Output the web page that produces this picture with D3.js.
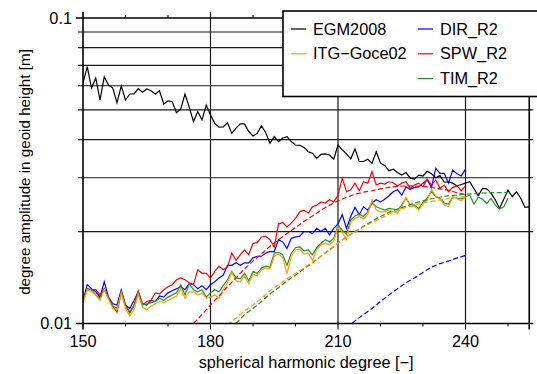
<!DOCTYPE html>
<html lang="en">
<head>
	<meta charset="UTF-8">
	<title>degree amplitudes</title>
	<style>
		body { margin: 0; background: #fff; }
		text { font-family: "Liberation Sans", Arial, Helvetica, sans-serif; }
	</style>
</head>
<body>
	<script type="text/javascript" src="https://cdn.jsdelivr.net/npm/d3@7/dist/d3.min.js"></script>
	<script type="text/javascript">
		// degree amplitudes [m], one value per degree
		var egm2008 = [0.0612,0.0693,0.0590,0.0636,0.0539,0.0642,0.0603,0.0590,0.0528,0.0599,
			0.0539,0.0564,0.0564,0.0587,0.0572,0.0586,0.0578,0.0564,0.0578,0.0523,
			0.0535,0.0532,0.0490,0.0504,0.0564,0.0511,0.0458,0.0494,0.0464,0.0519,
			0.0481,0.0452,0.0439,0.0440,0.0454,0.0419,0.0436,0.0450,0.0450,0.0425,
			0.0411,0.0419,0.0443,0.0421,0.0389,0.0409,0.0394,0.0405,0.0409,0.0394,
			0.0384,0.0383,0.0377,0.0365,0.0361,0.0347,0.0358,0.0359,0.0356,0.0345,
			0.0384,0.0370,0.0359,0.0346,0.0373,0.0339,0.0339,0.0345,0.0335,0.0365,
			0.0335,0.0329,0.0316,0.0320,0.0312,0.0306,0.0312,0.0299,0.0297,0.0306,
			0.0304,0.0315,0.0309,0.0300,0.0305,0.0290,0.0291,0.0288,0.0282,0.0285,
			0.0288,0.0291,0.0276,0.0262,0.0277,0.0276,0.0267,0.0254,0.0238,0.0255,
			0.0273,0.0260,0.0270,0.0257,0.0240,0.0241];
		var dirR2 = [0.0119,0.0134,0.0130,0.0127,0.0122,0.0137,0.0122,0.0116,0.0115,0.0129,
			0.0115,0.0112,0.0119,0.0127,0.0116,0.0115,0.0119,0.0118,0.0123,0.0122,
			0.0126,0.0128,0.0130,0.0132,0.0129,0.0135,0.0134,0.0130,0.0133,0.0129,
			0.0134,0.0137,0.0141,0.0144,0.0155,0.0155,0.0158,0.0155,0.0158,0.0158,
			0.0164,0.0166,0.0166,0.0170,0.0172,0.0172,0.0188,0.0185,0.0176,0.0190,
			0.0192,0.0193,0.0200,0.0200,0.0197,0.0205,0.0200,0.0205,0.0195,0.0205,
			0.0212,0.0227,0.0205,0.0224,0.0240,0.0227,0.0241,0.0235,0.0248,0.0254,
			0.0250,0.0255,0.0262,0.0270,0.0274,0.0263,0.0280,0.0275,0.0279,0.0280,
			0.0288,0.0295,0.0279,0.0322,0.0310,0.0310,0.0288,0.0318,0.0309,0.0304,
			0.0320];
		var spwR2 = [0.0119,0.0130,0.0129,0.0129,0.0124,0.0130,0.0121,0.0114,0.0109,0.0126,
			0.0115,0.0109,0.0115,0.0128,0.0115,0.0118,0.0119,0.0126,0.0125,0.0129,
			0.0132,0.0134,0.0139,0.0141,0.0139,0.0136,0.0134,0.0150,0.0146,0.0146,
			0.0141,0.0148,0.0154,0.0150,0.0153,0.0170,0.0161,0.0168,0.0174,0.0168,
			0.0183,0.0184,0.0192,0.0193,0.0188,0.0178,0.0212,0.0214,0.0207,0.0213,
			0.0221,0.0232,0.0235,0.0230,0.0241,0.0244,0.0250,0.0248,0.0254,0.0250,
			0.0263,0.0299,0.0270,0.0274,0.0288,0.0272,0.0291,0.0288,0.0314,0.0284,
			0.0288,0.0286,0.0291,0.0289,0.0282,0.0288,0.0291,0.0277,0.0284,0.0288,
			0.0280,0.0297,0.0284,0.0295,0.0277,0.0284,0.0270,0.0279,0.0282,0.0272,
			0.0282];
		var timR2 = [0.0118,0.0130,0.0129,0.0124,0.0121,0.0130,0.0121,0.0114,0.0112,0.0127,
			0.0114,0.0108,0.0114,0.0126,0.0115,0.0116,0.0117,0.0118,0.0121,0.0119,
			0.0122,0.0124,0.0126,0.0134,0.0124,0.0135,0.0129,0.0127,0.0129,0.0122,
			0.0126,0.0129,0.0127,0.0133,0.0139,0.0148,0.0141,0.0140,0.0146,0.0138,
			0.0148,0.0146,0.0152,0.0154,0.0153,0.0170,0.0171,0.0168,0.0155,0.0170,
			0.0177,0.0178,0.0173,0.0174,0.0168,0.0177,0.0183,0.0188,0.0185,0.0190,
			0.0210,0.0202,0.0196,0.0218,0.0225,0.0228,0.0224,0.0232,0.0248,0.0241,
			0.0238,0.0235,0.0238,0.0237,0.0235,0.0244,0.0257,0.0244,0.0244,0.0238,
			0.0249,0.0257,0.0271,0.0260,0.0257,0.0248,0.0246,0.0260,0.0257,0.0256,
			0.0260,0.0263,0.0246,0.0259,0.0255,0.0247,0.0257,0.0244,0.0237,0.0241,
			0.0257];
		var itgGoce02 = [0.0117,0.0129,0.0127,0.0124,0.0119,0.0129,0.0120,0.0112,0.0111,0.0126,
			0.0112,0.0106,0.0111,0.0125,0.0113,0.0111,0.0114,0.0116,0.0118,0.0117,
			0.0119,0.0121,0.0123,0.0130,0.0121,0.0127,0.0127,0.0124,0.0126,0.0121,
			0.0122,0.0124,0.0121,0.0129,0.0136,0.0147,0.0138,0.0137,0.0143,0.0135,
			0.0145,0.0143,0.0150,0.0152,0.0151,0.0166,0.0169,0.0164,0.0146,0.0166,
			0.0174,0.0175,0.0169,0.0170,0.0161,0.0174,0.0181,0.0183,0.0181,0.0186,
			0.0207,0.0199,0.0188,0.0215,0.0221,0.0224,0.0220,0.0228,0.0254,0.0235,
			0.0232,0.0232,0.0235,0.0232,0.0230,0.0241,0.0259,0.0242,0.0242,0.0235,
			0.0246,0.0254,0.0274,0.0262,0.0256,0.0244,0.0242,0.0259,0.0256,0.0252,
			0.0259];

		// error degree amplitudes (dashed), every second degree
		var dirErr = [0.0097,0.0102,0.0107,0.0112,0.0118,0.0124,0.0130,0.0136,0.0141,0.0147,
			0.0153,0.0157,0.0160,0.0164,0.0167];
		var spwErr = [0.0100,0.0107,0.0115,0.0123,0.0132,0.0141,0.0151,0.0160,0.0169,0.0179,
			0.0188,0.0197,0.0206,0.0216,0.0225,0.0235,0.0244,0.0252,0.0259,0.0265,
			0.0269,0.0272,0.0276,0.0279,0.0281,0.0282,0.0282,0.0281,0.0279,0.0276,
			0.0273,0.0268,0.0264];
		var timErr = [0.0100,0.0107,0.0112,0.0118,0.0125,0.0131,0.0138,0.0144,0.0151,0.0158,
			0.0166,0.0174,0.0183,0.0192,0.0200,0.0208,0.0216,0.0224,0.0231,0.0237,
			0.0242,0.0248,0.0252,0.0256,0.0259,0.0262,0.0263,0.0265,0.0266,0.0267,
			0.0268,0.0268,0.0268];
		var itgErr = [0.0099,0.0104,0.0110,0.0115,0.0121,0.0128,0.0134,0.0140,0.0146,0.0152,
			0.0159,0.0166,0.0175,0.0183,0.0192,0.0199,0.0207,0.0214,0.0221,0.0228,
			0.0234,0.0240,0.0244,0.0248,0.0251,0.0254,0.0257,0.0259,0.0260];

		var xTickLabels = [150, 180, 210, 240];
		var xMinorTicks = [160, 170, 190, 200, 220, 230, 250];
		var yTickLabels = [0.01, 0.1];
		var yMinorTicks = [0.02, 0.03, 0.04, 0.05, 0.06, 0.07, 0.08, 0.09];

		// series: name, values, first degree, step, colour, dashed?
		var series = [
			{name: "EGM2008", values: egm2008, start: 150, step: 1, color: "#000000", dash: false},
			{name: "DIR_R2", values: dirR2, start: 150, step: 1, color: "#0000ff", dash: false},
			{name: "SPW_R2", values: spwR2, start: 150, step: 1, color: "#ff0000", dash: false},
			{name: "TIM_R2", values: timR2, start: 150, step: 1, color: "#23942a", dash: false},
			{name: "ITG-Goce02", values: itgGoce02, start: 150, step: 1, color: "#ff9a0a", dash: false},
			{name: "DIR_R2 err", values: dirErr, start: 212, step: 2, color: "#0000ff", dash: true},
			{name: "SPW_R2 err", values: spwErr, start: 176, step: 2, color: "#ff0000", dash: true},
			{name: "TIM_R2 err", values: timErr, start: 186, step: 2, color: "#23942a", dash: true},
			{name: "ITG-Goce02 err", values: itgErr, start: 184, step: 2, color: "#ff9a0a", dash: true}
		];

		var legendItems = [
			{label: "EGM2008", color: "#000000", col: 0, row: 0},
			{label: "ITG\u2212Goce02", color: "#ff9a0a", col: 0, row: 1},
			{label: "DIR_R2", color: "#0000ff", col: 1, row: 0},
			{label: "SPW_R2", color: "#ff0000", col: 1, row: 1},
			{label: "TIM_R2", color: "#23942a", col: 1, row: 2}
		];

		var width = 537;
		var height = 374;
		// plot box (pixels)
		var pLeft = 83, pRight = 529.25, pTop = 18, pBottom = 323.5;

		var svg = d3.select("body")
			.append("svg")
			.attr("width", width)
			.attr("height", height);

		var x = d3.scaleLinear().domain([150, 255]).range([pLeft, pRight]);
		var y = d3.scaleLog().domain([0.01, 0.1]).range([pBottom, pTop]);

		svg.append("clipPath").attr("id", "plot")
			.append("rect")
			.attr("x", pLeft).attr("y", pTop)
			.attr("width", pRight - pLeft).attr("height", pBottom - pTop);

		// horizontal grid lines (they also stick out as ticks)
		svg.selectAll(".hgrid")
			.data(yMinorTicks)
			.enter()
			.append("line")
			.attr("x1", pLeft - 5).attr("x2", pRight + 4)
			.attr("y1", function(d) { return y(d); })
			.attr("y2", function(d) { return y(d); })
			.attr("stroke", "#1a1a1a").attr("stroke-width", 1.2);

		// vertical grid lines at labelled degrees
		svg.selectAll(".vgrid")
			.data(xTickLabels.slice(1))
			.enter()
			.append("line")
			.attr("x1", function(d) { return x(d); })
			.attr("x2", function(d) { return x(d); })
			.attr("y1", pTop - 6).attr("y2", pBottom + 6)
			.attr("stroke", "#1a1a1a").attr("stroke-width", 1.2);

		// minor ticks on top and bottom
		svg.selectAll(".mtick")
			.data(xMinorTicks.concat(xMinorTicks))
			.enter()
			.append("line")
			.attr("x1", function(d) { return x(d); })
			.attr("x2", function(d) { return x(d); })
			.attr("y1", function(d, i) { return i < xMinorTicks.length ? pTop : pBottom; })
			.attr("y2", function(d, i) { return i < xMinorTicks.length ? pTop - 3 : pBottom + 3; })
			.attr("stroke", "#000").attr("stroke-width", 1);

		// data lines
		var line = d3.line()
			.x(function(d) { return x(d[0]); })
			.y(function(d) { return y(d[1]); });

		svg.append("g")
			.attr("clip-path", "url(#plot)")
			.selectAll("path")
			.data(series)
			.enter()
			.append("path")
			.attr("d", function(s) {
				return line(s.values.map(function(v, i) { return [s.start + i * s.step, v]; }));
			})
			.attr("fill", "none")
			.attr("stroke", function(s) { return s.color; })
			.attr("stroke-width", 1.2)
			.attr("stroke-dasharray", function(s) { return s.dash ? "5,2.5" : null; });

		// frame
		var frame = svg.append("g").attr("stroke", "#000").attr("stroke-width", 1.6);
		frame.append("line").attr("x1", pLeft - 7).attr("x2", pRight + 4).attr("y1", y(0.1)).attr("y2", y(0.1));
		frame.append("line").attr("x1", pLeft - 7).attr("x2", pRight + 4).attr("y1", y(0.01)).attr("y2", y(0.01));
		frame.append("line").attr("x1", pLeft).attr("x2", pLeft).attr("y1", pTop - 6).attr("y2", pBottom + 6);
		frame.append("line").attr("x1", pRight).attr("x2", pRight).attr("y1", pTop - 6).attr("y2", pBottom + 6);

		// tick labels
		svg.selectAll(".xlab")
			.data(xTickLabels)
			.enter()
			.append("text")
			.attr("x", function(d) { return x(d); })
			.attr("y", 347)
			.attr("text-anchor", "middle")
			.attr("font-size", 16.3)
			.text(function(d) { return d; });

		svg.selectAll(".ylab")
			.data(yTickLabels)
			.enter()
			.append("text")
			.attr("x", 72)
			.attr("y", function(d) { return y(d) + 5.8; })
			.attr("text-anchor", "end")
			.attr("font-size", 16.3)
			.text(function(d) { return d; });

		// axis titles
		svg.append("text")
			.attr("x", (pLeft + pRight) / 2)
			.attr("y", 368)
			.attr("text-anchor", "middle")
			.attr("font-size", 16.3)
			.text("spherical harmonic degree [\u2212]");

		svg.append("text")
			.attr("transform", "translate(30,172) rotate(-90)")
			.attr("text-anchor", "middle")
			.attr("font-size", 15.2)
			.text("degree amplitude in geoid height [m]");

		// legend
		var legend = svg.append("g");
		legend.append("rect")
			.attr("x", 283).attr("y", 11)
			.attr("width", 270).attr("height", 85.5)
			.attr("fill", "#fff").attr("stroke", "#000").attr("stroke-width", 1.6);

		var items = legend.selectAll(".item")
			.data(legendItems)
			.enter()
			.append("g")
			.attr("transform", function(d) {
				return "translate(" + (291 + d.col * 127) + "," + (29 + d.row * 24.8) + ")";
			});
		items.append("line")
			.attr("x1", 0).attr("x2", 15)
			.attr("stroke", function(d) { return d.color; })
			.attr("stroke-width", 1.2);
		items.append("text")
			.attr("x", 22).attr("y", 5.5)
			.attr("font-size", 16.3)
			.text(function(d) { return d.label; });
	</script>
</body>
</html>
